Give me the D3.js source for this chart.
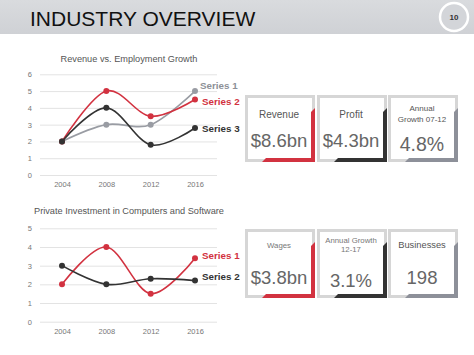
<!DOCTYPE html>
<html><head><meta charset="utf-8">
<script src="https://cdn.jsdelivr.net/npm/d3@7"></script>
<style>body{margin:0;background:#fff}svg{display:block}text{font-family:Arial,"Liberation Sans",sans-serif}</style>
</head><body><svg id="c" width="474" height="355"></svg>
<script>
const years = ["2004","2008","2012","2016"];
const chart1Title = "Revenue vs. Employment Growth";
const chart1Ticks = [0,1,2,3,4,5,6];
const c1Series1 = [2,3,3,5];
const c1Series2 = [2,5,3.5,4.5];
const c1Series3 = [2,4,1.8,2.8];
const chart2Title = "Private Investment in Computers and Software";
const chart2Ticks = [0,1,2,3,4,5];
const c2Series1 = [2,4,1.5,3.4];
const c2Series2 = [3,2,2.3,2.2];
const cardLabelsTop = [["Revenue"],["Profit"],["Annual","Growth 07-12"]];
const cardValuesTop = ["$8.6bn","$4.3bn","4.8%"];
const cardLabelsBottom = [["Wages"],["Annual Growth","12-17"],["Businesses"]];
const cardValuesBottom = ["$3.8bn","3.1%","198"];

const RED="#d23240", GRAY="#999ca3", DARK="#333333";
const svg = d3.select("#c");

// header
const g0 = svg.append("defs").append("linearGradient").attr("id","hg").attr("x1",0).attr("x2",0).attr("y1",0).attr("y2",1);
g0.append("stop").attr("offset",0).attr("stop-color","#d9dbde");
g0.append("stop").attr("offset",1).attr("stop-color","#cfd1d5");
svg.append("rect").attr("x",0).attr("y",0).attr("width",474).attr("height",34).attr("fill","url(#hg)");
svg.append("text").attr("x",30).attr("y",26).attr("font-size",21).attr("fill","#111").text("INDUSTRY OVERVIEW");
svg.append("circle").attr("cx",454).attr("cy",17).attr("r",14).attr("fill","#d3d5d9").attr("stroke","#fff").attr("stroke-width",2.5);
svg.append("text").attr("x",454).attr("y",20).attr("text-anchor","middle").attr("font-size",8).attr("font-weight","bold").attr("fill","#333").text("10");

function lineChart(cfg){
  const x = d3.scalePoint().domain(years).range([62,195]);
  const y = d3.scaleLinear().domain([0, d3.max(cfg.ticks)]).range([cfg.y0, cfg.yTop]);
  const g = svg.append("g");
  g.append("text").attr("x",129).attr("y",cfg.titleY).attr("text-anchor","middle").attr("font-size",9.2).attr("fill","#555").text(cfg.title);
  const ax = g.append("g").attr("transform","translate(40,0)").call(d3.axisLeft(y).tickValues(cfg.ticks).tickFormat(d3.format("d")).tickSize(-177).tickPadding(8));
  ax.select(".domain").remove();
  ax.selectAll("line").attr("stroke","#e3e3e3");
  ax.selectAll("text").attr("font-size",7.5).attr("fill","#777").attr("font-family","Arial,sans-serif").attr("x",-8);
  const xa = g.append("g").attr("transform",`translate(0,${cfg.y0})`).call(d3.axisBottom(x).tickSize(0).tickPadding(7));
  xa.select(".domain").remove();
  xa.selectAll("text").attr("font-size",7.5).attr("fill","#777").attr("font-family","Arial,sans-serif");
  const line = d3.line().x((d,i)=>x(years[i])).y(d=>y(d)).curve(d3.curveCatmullRom.alpha(0));
  cfg.series.forEach(s=>{
    g.append("path").attr("d",line(s.values)).attr("fill","none").attr("stroke",s.color).attr("stroke-width",1.6);
    g.selectAll(null).data(s.values).enter().append("circle")
      .attr("cx",(d,i)=>x(years[i])).attr("cy",d=>y(d)).attr("r",3).attr("fill",s.color);
    g.append("text").attr("x",s.lx).attr("y",s.ly).attr("font-size",9.8).attr("font-weight","bold").attr("fill",s.tc||s.color).attr("dominant-baseline","middle").text(s.name);
  });
}
lineChart({title:chart1Title,titleY:62,ticks:chart1Ticks,y0:175,yTop:74.3,series:[
  {name:"Series 1",values:c1Series1,color:GRAY,tc:"#8d9097",lx:200,ly:86},
  {name:"Series 2",values:c1Series2,color:RED,lx:202,ly:102},
  {name:"Series 3",values:c1Series3,color:DARK,lx:202,ly:129}
]});
lineChart({title:chart2Title,titleY:214,ticks:chart2Ticks,y0:321.7,yTop:228.3,series:[
  {name:"Series 1",values:c2Series1,color:RED,lx:202,ly:256},
  {name:"Series 2",values:c2Series2,color:DARK,lx:202,ly:277}
]});

// cards
const accents=[RED,DARK,"#8d9099"];
function card(x,y,w,h,col,labels,val,row,i){
  const g=svg.append("g");
  g.append("rect").attr("x",x+1.5).attr("y",y+1.5).attr("width",w-3).attr("height",h-3).attr("fill","#fff").attr("stroke","#d6d6d6").attr("stroke-width",3);
  const t=4;
  const pts=[[x+w,y+13],[x+w,y+h],[x+17,y+h],[x+21,y+h-t],[x+w-t,y+h-t],[x+w-t,y+17]];
  g.append("path").attr("d",d3.line()(pts)+"Z").attr("fill",col);
  const cx=x+w/2-1;
  if(row===0){
    const two = labels.length>1;
    const fs = two?8:10;
    const ly = two? [y+16,y+27]:[y+23];
    labels.forEach((l,k)=>g.append("text").attr("x",cx).attr("y",ly[k]).attr("text-anchor","middle").attr("font-size",fs).attr("fill","#555").text(l));
    g.append("text").attr("x",cx).attr("y",two?y+56:y+52).attr("text-anchor","middle").attr("font-size",two?19.5:18.5).attr("fill","#666").text(val);
  } else {
    const biz = i===2;
    const fs = biz?9.3:7.8, lc = biz?"#555":"#777";
    const ly = labels.length>1? [y+14,y+23]:[y+19];
    labels.forEach((l,k)=>g.append("text").attr("x",cx).attr("y",ly[k]).attr("text-anchor","middle").attr("font-size",fs).attr("fill",lc).text(l));
    g.append("text").attr("x",cx).attr("y",i===1?y+58:y+55).attr("text-anchor","middle").attr("font-size",18.5).attr("fill","#666").text(val);
  }
}
const cardX=[245,317,388];
cardValuesTop.forEach((v,i)=>card(cardX[i],95,70,67,accents[i],cardLabelsTop[i],v,0,i));
cardValuesBottom.forEach((v,i)=>card(cardX[i],229,70,69,accents[i],cardLabelsBottom[i],v,1,i));
</script></body></html>
